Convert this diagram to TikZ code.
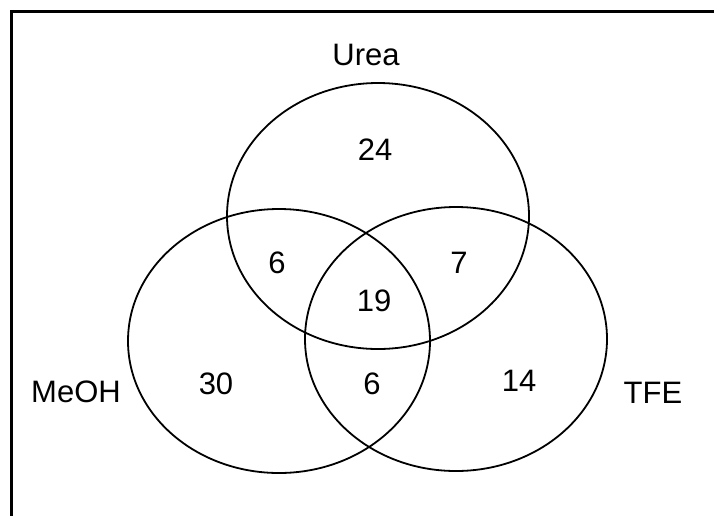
\documentclass[tikz,border=0pt]{standalone}
\usepackage{fontspec}
\setmainfont{Liberation Sans}
\begin{document}
\begin{tikzpicture}[x=1pt,y=-1pt,
  setcirc/.style={draw=black,line width=1.8pt},
  lbl/.style={inner sep=0pt,anchor=base,font=\fontsize{31}{36}\selectfont},
  frameline/.style={draw=black,line width=3.8pt}]
\useasboundingbox (0,0) rectangle (714,515);
\fill[white] (0,0) rectangle (714,515);
% frame (top and left only)
\coordinate (fbl) at (11.5,516);
\coordinate (ftl) at (11.5,11.5);
\coordinate (ftr) at (716,11.5);
\draw[frameline] (fbl) -- (ftl) -- (ftr);
% sets
\draw[setcirc] (378,216) ellipse [x radius=151, y radius=133];
\draw[setcirc] (279,341) ellipse [x radius=151, y radius=132];
\draw[setcirc] (456,339) ellipse [x radius=151, y radius=132];
% set labels
\node[lbl] (urea) at (366,65) {Urea};
\node[lbl] (meoh) at (76,402) {MeOH};
\node[lbl] (tfe) at (653,403) {TFE};
% counts
\node[lbl] (n24) at (375,160) {24};
\node[lbl] (n6a) at (277,273) {6};
\node[lbl] (n7) at (459,273) {7};
\node[lbl] (n19) at (374,311) {19};
\node[lbl] (n30) at (216,394) {30};
\node[lbl] (n6b) at (372,394) {6};
\node[lbl] (n14) at (519,391) {14};
\end{tikzpicture}
\end{document}
